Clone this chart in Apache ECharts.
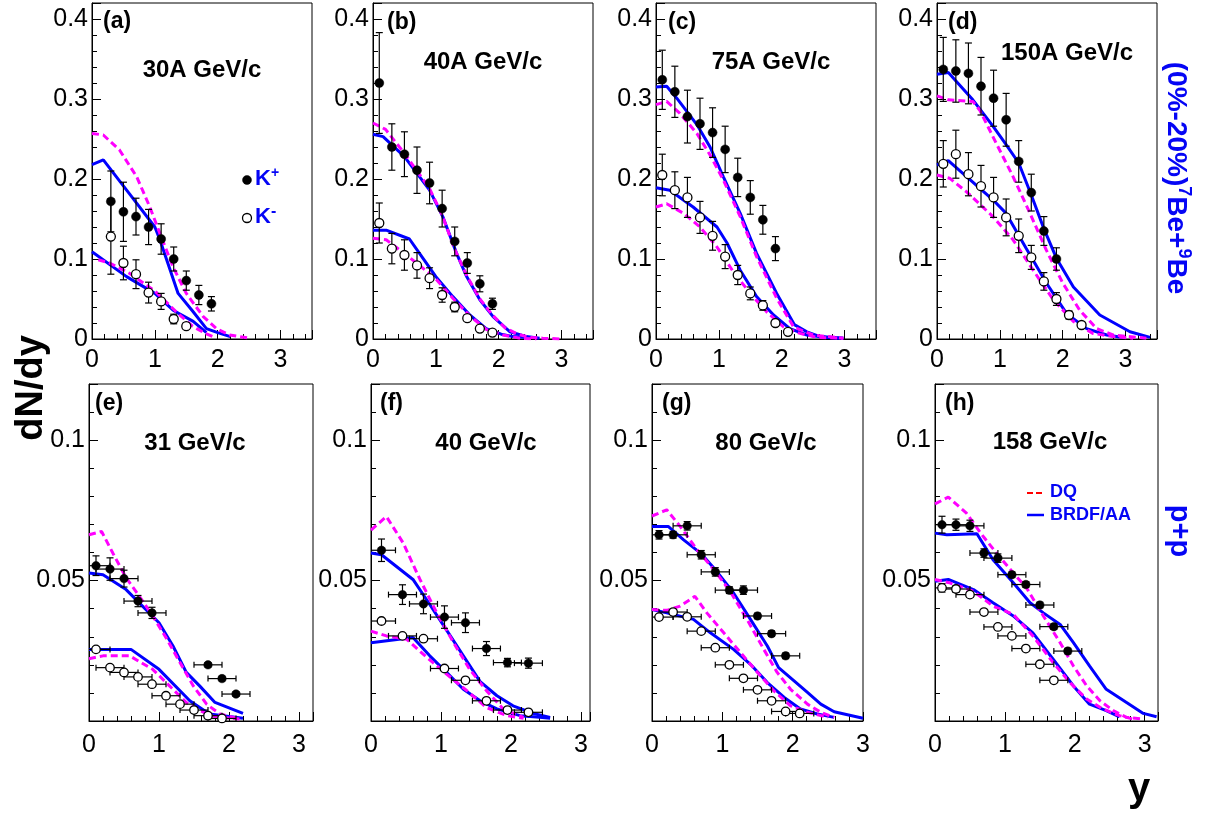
<!DOCTYPE html>
<html>
<head>
<meta charset="utf-8">
<script src="https://cdn.jsdelivr.net/npm/echarts@6.0.0/dist/echarts.min.js"></script>
<style>
  html, body { margin: 0; padding: 0; background: #ffffff; }
  #chart { width: 1216px; height: 818px; }
</style>
</head>
<body>
<div id="chart"></div>
<script>
// Kaon rapidity spectra dN/dy: NA61 data (K+ filled, K- open) vs DQ and BRDF/AA models.
// Data points are [y, dN/dy, stat. error]; model curves are [y, dN/dy].

// ---- (a) Be+Be 30A GeV/c ----
const kpA = [[0.3,0.172,0.038],[0.5,0.159,0.037],[0.7,0.153,0.023],[0.9,0.140,0.022],[1.1,0.125,0.019],[1.3,0.100,0.015],[1.5,0.073,0.012],[1.7,0.055,0.012],[1.9,0.044,0.009]];
const kmA = [[0.3,0.128,0.047],[0.5,0.095,0.021],[0.7,0.081,0.018],[0.9,0.058,0.013],[1.1,0.047,0.010],[1.3,0.025,0.006],[1.5,0.016,0.004]];
const brfUpA = [[0,0.218],[0.18,0.224],[0.6,0.181],[1.0,0.140],[1.08,0.124],[1.37,0.057],[1.6,0.035],[1.82,0.013],[2.0,0.008],[2.2,0.003]];
const brfLoA = [[0,0.109],[0.55,0.078],[1.0,0.057],[1.29,0.036],[1.61,0.022],[1.82,0.008]];
const dqUpA = [[0,0.257],[0.18,0.255],[0.44,0.236],[0.71,0.203],[0.92,0.165],[1.08,0.132],[1.29,0.090],[1.5,0.057],[1.77,0.028],[1.98,0.013],[2.19,0.005],[2.51,0.001]];
const dqLoA = [[0.1,0.099],[0.28,0.095],[0.6,0.082],[1.0,0.060],[1.34,0.034],[1.6,0.016],[1.8,0.007],[1.95,0.002]];

// ---- (b) Be+Be 40A GeV/c ----
const kpB = [[0.1,0.320,0.063],[0.3,0.240,0.029],[0.5,0.231,0.028],[0.7,0.211,0.029],[0.9,0.195,0.026],[1.1,0.163,0.023],[1.3,0.122,0.018],[1.5,0.095,0.013],[1.7,0.069,0.010],[1.9,0.044,0.007]];
const kmB = [[0.1,0.145,0.025],[0.3,0.113,0.019],[0.5,0.105,0.019],[0.7,0.092,0.016],[0.9,0.076,0.013],[1.1,0.055,0.009],[1.3,0.040,0.006],[1.5,0.026,0.004],[1.7,0.013,0.003],[1.9,0.008,0.002]];
const brfUpB = [[0,0.256],[0.16,0.253],[0.5,0.228],[0.9,0.186],[1.11,0.153],[1.33,0.107],[1.49,0.078],[1.7,0.049],[1.91,0.028],[2.18,0.009],[2.44,0.003],[2.65,0.001]];
const brfLoB = [[0,0.136],[0.21,0.136],[0.58,0.125],[0.74,0.107],[1.0,0.078],[1.27,0.053],[1.54,0.030],[1.8,0.013],[2.04,0.006],[2.23,0.003],[2.44,0.002]];
const dqUpB = [[0,0.270],[0.2,0.262],[0.5,0.232],[0.9,0.188],[1.1,0.155],[1.3,0.112],[1.5,0.078],[1.7,0.050],[1.9,0.030],[2.1,0.014],[2.3,0.006],[2.5,0.002],[2.7,0.001],[3.0,0.0]];
const dqLoB = [[0,0.126],[0.21,0.124],[0.48,0.108],[0.74,0.092],[1.0,0.075],[1.27,0.051],[1.54,0.029],[1.8,0.012],[2.07,0.005],[2.34,0.001],[2.6,0.0]];

// ---- (c) Be+Be 75A GeV/c ----
const kpC = [[0.1,0.324,0.037],[0.3,0.309,0.032],[0.5,0.278,0.033],[0.7,0.269,0.032],[0.9,0.258,0.031],[1.1,0.237,0.029],[1.3,0.202,0.024],[1.5,0.177,0.021],[1.7,0.149,0.018],[1.9,0.113,0.015]];
const kmC = [[0.1,0.205,0.026],[0.3,0.186,0.023],[0.5,0.177,0.025],[0.7,0.152,0.020],[0.9,0.129,0.018],[1.1,0.103,0.015],[1.3,0.080,0.012],[1.5,0.057,0.008],[1.7,0.042,0.006],[1.9,0.020,0.004],[2.1,0.009,0.002]];
const brfUpC = [[0,0.315],[0.17,0.316],[0.33,0.301],[0.65,0.268],[0.86,0.240],[1.07,0.203],[1.34,0.157],[1.6,0.107],[1.92,0.057],[2.2,0.018],[2.4,0.009],[2.61,0.003],[2.98,0.001]];
const brfLoC = [[0,0.189],[0.22,0.186],[0.59,0.165],[0.97,0.140],[1.13,0.120],[1.34,0.086],[1.6,0.053],[1.87,0.030],[2.13,0.013],[2.4,0.005],[2.72,0.002],[2.98,0.001]];
const dqUpC = [[0,0.293],[0.17,0.297],[0.38,0.282],[0.65,0.257],[0.86,0.230],[1.07,0.199],[1.34,0.153],[1.6,0.103],[1.92,0.051],[2.19,0.015],[2.5,0.005],[2.98,0.001]];
const dqLoC = [[0,0.165],[0.17,0.169],[0.44,0.157],[0.7,0.140],[0.97,0.115],[1.23,0.084],[1.5,0.057],[1.76,0.034],[2.03,0.015],[2.29,0.007],[2.56,0.002],[2.98,0.001]];

// ---- (d) Be+Be 150A GeV/c ----
const kpD = [[0.1,0.337,0.040],[0.3,0.335,0.039],[0.5,0.332,0.038],[0.7,0.316,0.036],[0.9,0.301,0.035],[1.1,0.274,0.033],[1.3,0.222,0.026],[1.5,0.183,0.023],[1.7,0.135,0.018],[1.9,0.100,0.014]];
const kmD = [[0.1,0.219,0.029],[0.3,0.231,0.030],[0.5,0.206,0.027],[0.7,0.191,0.026],[0.9,0.177,0.025],[1.1,0.152,0.023],[1.3,0.129,0.021],[1.5,0.102,0.015],[1.7,0.072,0.011],[1.9,0.050,0.008],[2.1,0.030,0.005],[2.3,0.0175,0.003]];
const brfUpD = [[0,0.331],[0.18,0.333],[0.57,0.299],[0.89,0.266],[1.1,0.243],[1.3,0.220],[1.5,0.180],[1.7,0.138],[1.9,0.101],[2.17,0.065],[2.59,0.030],[3.07,0.009],[3.39,0.002]];
const brfLoD = [[0,0.2175],[0.18,0.223],[0.47,0.203],[0.89,0.174],[1.1,0.157],[1.42,0.113],[1.74,0.070],[2.06,0.032],[2.38,0.013],[2.7,0.005],[2.96,0.002]];
const dqUpD = [[0,0.304],[0.18,0.299],[0.57,0.297],[0.68,0.286],[0.94,0.245],[1.21,0.203],[1.48,0.157],[1.74,0.111],[2.0,0.070],[2.27,0.036],[2.54,0.013],[2.8,0.005],[3.33,0.001]];
const dqLoD = [[0,0.205],[0.2,0.201],[0.47,0.184],[0.89,0.153],[1.21,0.124],[1.53,0.086],[1.85,0.049],[2.17,0.022],[2.48,0.007],[2.8,0.003],[3.12,0.001]];

// ---- (e) p+p 31 GeV/c ----
const kpE = [[0.1,0.0553,0.0035],[0.3,0.0541,0.004],[0.5,0.0507,0.003],[0.7,0.0427,0.002],[0.9,0.0385,0.002],[1.7,0.0200,0.0008],[1.9,0.0151,0.0008],[2.1,0.0096,0.0008]];
const kmE = [[0.1,0.0255,0.0008],[0.3,0.0190,0.0008],[0.5,0.0173,0.0008],[0.7,0.0157,0.0008],[0.9,0.0131,0.0008],[1.1,0.0090,0.0006],[1.3,0.0060,0.0005],[1.5,0.0039,0.0004],[1.7,0.0019,0.0003],[1.9,0.0009,0.0003]];
const brfUpE = [[0,0.0527],[0.2,0.0521],[0.53,0.0468],[1.0,0.0350],[1.2,0.0267],[1.39,0.0173],[1.58,0.0125],[1.8,0.0066],[2.2,0.0027]];
const brfLoE = [[0,0.0255],[0.6,0.0255],[1.0,0.0184],[1.44,0.0072],[1.72,0.0025],[2.2,0.0010]];
const dqUpE = [[0,0.0663],[0.18,0.0675],[0.34,0.0598],[0.53,0.0510],[0.72,0.0444],[0.91,0.0374],[1.1,0.0297],[1.3,0.0208],[1.49,0.0125],[1.68,0.0060],[1.87,0.0025],[2.15,0.0007]];
const dqLoE = [[0,0.0222],[0.2,0.0232],[0.58,0.0232],[0.91,0.0184],[1.15,0.0125],[1.39,0.0066],[1.58,0.0037],[1.77,0.0017],[2.15,0.0007]];

// ---- (f) p+p 40 GeV/c ----
const kpF = [[0.15,0.0608,0.004],[0.45,0.0450,0.0035],[0.75,0.0417,0.0035],[1.05,0.0370,0.004],[1.35,0.0350,0.0035],[1.65,0.0258,0.0025],[1.95,0.0208,0.0015],[2.25,0.0206,0.0018]];
const kmF = [[0.15,0.0356,0.0008],[0.45,0.0303,0.0008],[0.75,0.0293,0.0008],[1.05,0.0187,0.0006],[1.35,0.0145,0.0006],[1.65,0.0072,0.0005],[1.95,0.0039,0.0004],[2.25,0.0031,0.0004]];
const brfUpF = [[0,0.0598],[0.15,0.0592],[0.6,0.0504],[0.8,0.0430],[1.05,0.0335],[1.32,0.0232],[1.56,0.0140],[1.8,0.0090],[2.03,0.0054],[2.32,0.0027],[2.56,0.0013]];
const brfLoF = [[0,0.0279],[0.6,0.0297],[0.84,0.0232],[1.08,0.0173],[1.32,0.0113],[1.56,0.0072],[1.8,0.0043],[2.13,0.0019],[2.41,0.0013],[2.56,0.0010]];
const dqUpF = [[0,0.0680],[0.22,0.0728],[0.46,0.0634],[0.7,0.0504],[0.94,0.0385],[1.18,0.0279],[1.41,0.0184],[1.65,0.0108],[1.89,0.0043],[2.18,0.0013]];
const dqLoF = [[0,0.0320],[0.22,0.0303],[0.51,0.0291],[0.8,0.0226],[1.08,0.0167],[1.37,0.0108],[1.65,0.0048],[1.94,0.0019],[2.18,0.0010]];

// ---- (g) p+p 80 GeV/c ----
const kpG = [[0.1,0.0663,0.0015],[0.3,0.0663,0.0012],[0.5,0.0695,0.0015],[0.7,0.0592,0.0015],[0.9,0.0531,0.0015],[1.1,0.0466,0.0012],[1.3,0.0466,0.0015],[1.5,0.0374,0.001],[1.7,0.0311,0.001],[1.9,0.0232,0.001]];
const kmG = [[0.1,0.0370,0.0008],[0.3,0.0388,0.0008],[0.5,0.0371,0.0008],[0.7,0.0320,0.0006],[0.9,0.0261,0.0006],[1.1,0.0200,0.0005],[1.3,0.0152,0.0005],[1.5,0.0111,0.0004],[1.7,0.0072,0.0004],[1.9,0.0034,0.0003],[2.1,0.0027,0.0003]];
const brfUpG = [[0,0.0693],[0.23,0.0693],[0.45,0.0645],[0.69,0.0598],[0.92,0.0533],[1.16,0.0456],[1.4,0.0362],[1.64,0.0267],[1.8,0.0190],[2.02,0.0143],[2.21,0.0102],[2.4,0.0060],[2.59,0.0033],[3.0,0.0010]];
const brfLoG = [[0,0.0397],[0.21,0.0385],[0.59,0.0362],[0.83,0.0314],[1.16,0.0255],[1.4,0.0202],[1.64,0.0137],[1.88,0.0084],[2.11,0.0043],[2.35,0.0025],[2.59,0.0013]];
const dqUpG = [[0,0.0730],[0.21,0.0752],[0.4,0.0693],[0.64,0.0610],[0.88,0.0539],[1.11,0.0462],[1.35,0.0362],[1.59,0.0255],[1.78,0.0173],[1.97,0.0113],[2.21,0.0060],[2.4,0.0031],[2.59,0.0013]];
const dqLoG = [[0,0.0397],[0.21,0.0394],[0.4,0.0409],[0.61,0.0444],[0.78,0.0385],[1.02,0.0314],[1.26,0.0243],[1.5,0.0173],[1.73,0.0108],[1.97,0.0054],[2.21,0.0031],[2.5,0.0013]];

// ---- (h) p+p 158 GeV/c ----
const kpH = [[0.1,0.0699,0.003],[0.3,0.0699,0.002],[0.5,0.0695,0.002],[0.7,0.0598,0.0015],[0.9,0.0580,0.0015],[1.1,0.0521,0.001],[1.3,0.0486,0.001],[1.5,0.0413,0.001],[1.7,0.0336,0.001],[1.9,0.0249,0.001]];
const kmH = [[0.1,0.0474,0.0015],[0.3,0.0470,0.0012],[0.5,0.0450,0.001],[0.7,0.0388,0.0008],[0.9,0.0335,0.0008],[1.1,0.0303,0.0008],[1.3,0.0258,0.0006],[1.5,0.0202,0.0006],[1.7,0.0145,0.0005]];
const brfUpH = [[0,0.0669],[0.17,0.0663],[0.6,0.0667],[0.83,0.0574],[1.12,0.0492],[1.36,0.0421],[1.55,0.0385],[1.79,0.0344],[1.98,0.0279],[2.21,0.0196],[2.45,0.0113],[2.74,0.0066],[2.98,0.0027],[3.17,0.0015]];
const brfLoH = [[0,0.0498],[0.19,0.0504],[0.55,0.0468],[0.83,0.0421],[1.12,0.0374],[1.4,0.0314],[1.69,0.0220],[1.98,0.0125],[2.21,0.0060],[2.45,0.0037],[2.64,0.0015]];
const dqUpH = [[0,0.0773],[0.19,0.0797],[0.45,0.0740],[0.69,0.0657],[0.88,0.0598],[1.12,0.0527],[1.31,0.0474],[1.55,0.0374],[1.79,0.0279],[1.98,0.0196],[2.17,0.0125],[2.36,0.0072],[2.55,0.0037],[2.74,0.0013],[2.98,0.0007]];
const dqLoH = [[0,0.0504],[0.21,0.0492],[0.55,0.0462],[0.83,0.0409],[1.12,0.0380],[1.4,0.0303],[1.69,0.0208],[1.93,0.0137],[2.17,0.0078],[2.4,0.0043],[2.64,0.0019],[2.83,0.0007]];

// p+p points carry a rapidity bin half-width
const ppRapidityHalfBin = 0.2;

const panelTags = ['(a)','(b)','(c)','(d)','(e)','(f)','(g)','(h)'];
const panelTitles = ['30A GeV/c','40A GeV/c','75A GeV/c','150A GeV/c','31 GeV/c','40 GeV/c','80 GeV/c','158 GeV/c'];

const panels = [
  {kp:kpA, km:kmA, brfUp:brfUpA, brfLo:brfLoA, dqUp:dqUpA, dqLo:dqLoA},
  {kp:kpB, km:kmB, brfUp:brfUpB, brfLo:brfLoB, dqUp:dqUpB, dqLo:dqLoB},
  {kp:kpC, km:kmC, brfUp:brfUpC, brfLo:brfLoC, dqUp:dqUpC, dqLo:dqLoC},
  {kp:kpD, km:kmD, brfUp:brfUpD, brfLo:brfLoD, dqUp:dqUpD, dqLo:dqLoD},
  {kp:kpE, km:kmE, brfUp:brfUpE, brfLo:brfLoE, dqUp:dqUpE, dqLo:dqLoE},
  {kp:kpF, km:kmF, brfUp:brfUpF, brfLo:brfLoF, dqUp:dqUpF, dqLo:dqLoF},
  {kp:kpG, km:kmG, brfUp:brfUpG, brfLo:brfLoG, dqUp:dqUpG, dqLo:dqLoG},
  {kp:kpH, km:kmH, brfUp:brfUpH, brfLo:brfLoH, dqUp:dqUpH, dqLo:dqLoH}
];

// ---- layout ----
const FONT = '"Liberation Sans", Arial, Helvetica, sans-serif';
const BLUE = '#0000ff';
const MAGENTA = '#ff00ff';
const TEXT_BLUE = '#0505f5';

const rows = [
  {top: 3,   height: 336, yMax: 0.42, yMajor: 0.1,  yMinor: 0.02, labelMargin: 9,  halfBin: 0, marker: 9},
  {top: 384, height: 337, yMax: 0.12, yMajor: 0.05, yMinor: 0.01, labelMargin: 12, halfBin: ppRapidityHalfBin, marker: 8.5}
];
const frames = [
  {row: 0, left: 92,  width: 220, xMax: 3.5,  tag: [103, 22],  title: [202, 70]},
  {row: 0, left: 373, width: 220, xMax: 3.5,  tag: [387, 23],  title: [483, 62]},
  {row: 0, left: 656, width: 220, xMax: 3.5,  tag: [668, 23],  title: [771, 62]},
  {row: 0, left: 937, width: 220, xMax: 3.5,  tag: [948, 23],  title: [1067, 53]},
  {row: 1, left: 89,  width: 224, xMax: 3.2,  tag: [95, 404],  title: [195, 443]},
  {row: 1, left: 371, width: 219, xMax: 3.13, tag: [380, 404], title: [486, 443]},
  {row: 1, left: 652, width: 211, xMax: 3.0,  tag: [662, 404], title: [766, 443]},
  {row: 1, left: 935, width: 223, xMax: 3.19, tag: [945, 404], title: [1050, 442]}
];

function isMultiple(v, step) {
  const k = v / step;
  return Math.abs(k - Math.round(k)) < 1e-6;
}
function xLabel(v) {
  return isMultiple(v, 1) ? String(Math.round(v)) : '';
}
function yLabelTop(v) {
  if (!isMultiple(v, 0.1)) return '';
  return Math.abs(v) < 1e-9 ? '0' : v.toFixed(1);
}
function yLabelBottom(v) {
  if (Math.abs(v) < 1e-9 || !isMultiple(v, 0.05)) return '';
  return isMultiple(v, 0.1) ? v.toFixed(1) : v.toFixed(2);
}

const grids = [], xAxes = [], yAxes = [], series = [];

function tickAxis(base, interval, len) {
  return Object.assign({
    type: 'value', interval: interval,
    axisLine: {show: false, onZero: false},
    axisTick: {show: true, inside: true, length: len, lineStyle: {color: '#000', width: 1}},
    axisLabel: {show: false},
    splitLine: {show: false},
    minorTick: {show: false},
    silent: true
  }, base);
}

function lineSeries(data, axisIndex, color, dashed) {
  return {
    type: 'line', data: data, xAxisIndex: axisIndex, yAxisIndex: axisIndex,
    symbol: 'none', showSymbol: false, smooth: false, silent: true, clip: true, z: 2,
    lineStyle: {color: color, width: 3, type: dashed ? [7, 4] : 'solid', cap: 'butt'},
    itemStyle: {color: color},
    emphasis: {disabled: true}
  };
}

function errorBarSeries(points, axisIndex, halfBin) {
  return {
    type: 'custom', xAxisIndex: axisIndex, yAxisIndex: axisIndex, clip: true, silent: true, z: 3,
    data: points.map(p => [p[0], p[1], p[2]]),
    encode: {x: 0, y: 1},
    renderItem: function (params, api) {
      const x = api.value(0), y = api.value(1), e = api.value(2);
      const st = {stroke: '#000', lineWidth: 1.2};
      const kids = [];
      const seg = (a, b) => kids.push({type: 'line', shape: {x1: a[0], y1: a[1], x2: b[0], y2: b[1]}, style: st});
      const hi = api.coord([x, y + e]);
      const lo = api.coord([x, y - e]);
      const cap = 3.5;
      seg(hi, lo);
      seg([hi[0] - cap, hi[1]], [hi[0] + cap, hi[1]]);
      seg([lo[0] - cap, lo[1]], [lo[0] + cap, lo[1]]);
      if (halfBin) {
        const l = api.coord([x - halfBin, y]);
        const r = api.coord([x + halfBin, y]);
        seg(l, r);
        seg([l[0], l[1] - 3], [l[0], l[1] + 3]);
        seg([r[0], r[1] - 3], [r[0], r[1] + 3]);
      }
      return {type: 'group', children: kids};
    }
  };
}

function markerSeries(points, axisIndex, open, size) {
  return {
    type: 'scatter', xAxisIndex: axisIndex, yAxisIndex: axisIndex, silent: true, z: 4,
    data: points.map(p => [p[0], p[1]]),
    symbol: 'circle', symbolSize: size,
    itemStyle: open
      ? {color: '#ffffff', borderColor: '#000000', borderWidth: 1.3, opacity: 1}
      : {color: '#000000', borderColor: '#000000', borderWidth: 0.5, opacity: 1},
    emphasis: {disabled: true}
  };
}

frames.forEach((f, i) => {
  const row = rows[f.row];
  const p = panels[i];
  const major = 2 * i, minor = 2 * i + 1;

  grids.push({
    left: f.left, top: row.top, width: f.width, height: row.height,
    show: true, borderColor: '#000', borderWidth: 1, backgroundColor: 'rgba(0,0,0,0)',
    containLabel: false, outerBoundsMode: 'none'
  });

  xAxes.push(tickAxis({
    gridIndex: i, min: 0, max: f.xMax, position: 'bottom',
    axisLine: {show: true, onZero: false, lineStyle: {color: '#000', width: 1}},
    axisLabel: {show: true, margin: row.labelMargin, fontSize: 25, fontFamily: FONT, color: '#000',
                formatter: xLabel, showMinLabel: true, showMaxLabel: true}
  }, 1, 9));
  xAxes.push(tickAxis({gridIndex: i, min: 0, max: f.xMax, position: 'bottom'}, 0.2, 5));

  yAxes.push(tickAxis({
    gridIndex: i, min: 0, max: row.yMax, position: 'left',
    axisLine: {show: true, onZero: false, lineStyle: {color: '#000', width: 1}},
    axisLabel: {show: true, margin: 4, fontSize: 25, fontFamily: FONT, color: '#000',
                formatter: f.row === 0 ? yLabelTop : yLabelBottom, showMinLabel: true, showMaxLabel: true}
  }, row.yMajor, 9));
  yAxes.push(tickAxis({gridIndex: i, min: 0, max: row.yMax, position: 'left'}, row.yMinor, 5));

  series.push(lineSeries(p.brfUp, major, BLUE, false));
  series.push(lineSeries(p.brfLo, major, BLUE, false));
  series.push(lineSeries(p.dqUp, major, MAGENTA, true));
  series.push(lineSeries(p.dqLo, major, MAGENTA, true));
  series.push(errorBarSeries(p.kp, major, row.halfBin));
  series.push(errorBarSeries(p.km, major, row.halfBin));
  series.push(markerSeries(p.kp, major, false, row.marker));
  series.push(markerSeries(p.km, major, true, row.marker));
});

// ---- texts and legends ----
function txt(x, y, text, size, opts) {
  opts = opts || {};
  const align = opts.align || 'center';
  return {
    type: 'text', x: x, y: y, rotation: opts.rotation || 0, silent: true, z: 10,
    style: {
      text: text, fill: opts.color || '#000', fontSize: size, fontWeight: 'bold', fontFamily: FONT,
      textAlign: align, textVerticalAlign: 'middle', align: align, verticalAlign: 'middle',
      rich: opts.rich
    }
  };
}

const graphics = [];
frames.forEach((f, i) => {
  graphics.push(txt(f.tag[0], f.tag[1], panelTags[i], 23, {align: 'left'}));
  graphics.push(txt(f.title[0], f.title[1], panelTitles[i], 24));
});

const supRich = (size, supSize, color) => ({
  m: {fontSize: size, fontWeight: 'bold', fontFamily: FONT, fill: color, color: color, lineHeight: size * 1.2},
  s: {fontSize: supSize, fontWeight: 'bold', fontFamily: FONT, fill: color, color: color, verticalAlign: 'top', lineHeight: supSize * 1.1}
});

// K+ / K- legend
graphics.push({type: 'circle', silent: true, z: 10, shape: {cx: 247, cy: 180, r: 4.5}, style: {fill: '#000', stroke: '#000', lineWidth: 0.5}});
graphics.push(txt(255, 179, '{m|K}{s|+}', 22, {align: 'left', color: TEXT_BLUE, rich: supRich(22, 14, TEXT_BLUE)}));
graphics.push({type: 'circle', silent: true, z: 10, shape: {cx: 247, cy: 218, r: 4.5}, style: {fill: '#fff', stroke: '#000', lineWidth: 1.3}});
graphics.push(txt(255, 217, '{m|K}{s|-}', 22, {align: 'left', color: TEXT_BLUE, rich: supRich(22, 16, TEXT_BLUE)}));

// model legend
graphics.push({type: 'line', silent: true, z: 10, shape: {x1: 1027, y1: 493, x2: 1044, y2: 493}, style: {stroke: '#ff0000', lineWidth: 2, lineDash: [6, 3]}});
graphics.push(txt(1050, 492, 'DQ', 18, {align: 'left', color: TEXT_BLUE}));
graphics.push({type: 'line', silent: true, z: 10, shape: {x1: 1027, y1: 515, x2: 1044, y2: 515}, style: {stroke: BLUE, lineWidth: 2.5}});
graphics.push(txt(1050, 515, 'BRDF/AA', 18, {align: 'left', color: TEXT_BLUE}));

// system labels on the right
graphics.push(txt(1176, 178, '{m|(0%-20%)}{s|7}{m|Be+}{s|9}{m|Be}', 28,
  {rotation: -Math.PI / 2, color: TEXT_BLUE, rich: supRich(28, 18, TEXT_BLUE)}));
graphics.push(txt(1179, 531, 'p+p', 29, {rotation: -Math.PI / 2, color: TEXT_BLUE}));

// axis titles
graphics.push(txt(32, 388, 'dN/dy', 38, {rotation: Math.PI / 2}));
graphics.push(txt(1139, 790, 'y', 40));

const chart = echarts.init(document.getElementById('chart'), null, {renderer: 'canvas'});
chart.setOption({
  animation: false,
  backgroundColor: '#ffffff',
  grid: grids,
  xAxis: xAxes,
  yAxis: yAxes,
  series: series,
  graphic: {elements: graphics}
});
</script>
</body>
</html>
